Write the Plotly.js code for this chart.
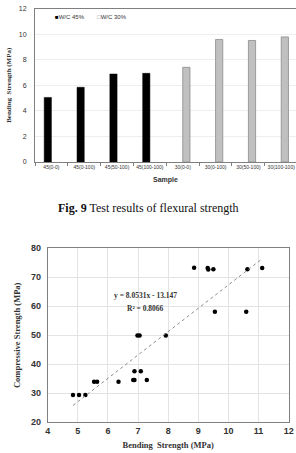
<!DOCTYPE html>
<html>
<head>
<meta charset="utf-8">
<script src="https://cdn.plot.ly/plotly-3.0.1.min.js"></script>
<style>html,body{margin:0;padding:0;background:#fff;}#chart{width:296px;height:453px;}</style>
</head>
<body>
<div id="chart"></div>
<script>
// ---- Fig. 9 bar chart data ----
const sampleLabels = ['45(0-0)','45(0-100)','45(50-100)','45(100-100)','30(0-0)','30(0-100)','30(50-100)','30(100-100)'];
const seriesNames = ['W/C 45%', 'W/C 30%'];
const wc45Values = [5.05, 5.84, 6.88, 6.93, null, null, null, null];
const wc30Values = [null, null, null, null, 7.4, 9.58, 9.5, 9.78];
const barYTicks = [0, 2, 4, 6, 8, 10, 12];

// ---- scatter data ----
const bendingStrength = [8.86, 9.31, 9.33, 9.5, 10.63, 11.12, 9.55, 10.59, 6.98, 7.05, 7.92, 6.88, 7.09, 6.84, 6.88, 7.29, 6.35, 5.54, 5.64, 4.84, 5.04, 5.25];
const compressiveStrength = [73.3, 73.2, 72.7, 72.8, 72.8, 73.2, 58.1, 58.1, 49.9, 49.9, 49.9, 37.6, 37.6, 34.6, 34.6, 34.6, 34.0, 34.0, 34.0, 29.4, 29.4, 29.4];
const trendSlope = 8.0531;
const trendIntercept = -13.147;
const trendR2 = 0.8066;

const xMin = Math.min(...bendingStrength), xMax = Math.max(...bendingStrength);
const trendX = [xMin, xMax];
const trendY = trendX.map(x => trendSlope * x + trendIntercept);

const W = 296, H = 453;
const px = v => v / W;
const py = v => 1 - v / H;

const sans = 'Liberation Sans, Arial, sans-serif';
const serif = 'Liberation Serif, Times New Roman, serif';

const colBlack = '#000000', colGray = '#c0c0c0', colGrayEdge = '#8a8a8a';

const traces = [
  {type:'bar', name:seriesNames[0], x: sampleLabels, y: wc45Values, xaxis:'x', yaxis:'y', showlegend:false,
   marker:{color:colBlack, line:{color:colBlack, width:0.5}}},
  {type:'bar', name:seriesNames[1], x: sampleLabels, y: wc30Values, xaxis:'x', yaxis:'y', showlegend:false,
   marker:{color:colGray, line:{color:colGrayEdge, width:0.8}}},
  // legend entries: swatch drawn right against the label, like the reference
  {type:'scatter', mode:'markers', x:[null], y:[null], xaxis:'x', yaxis:'y', legend:'legend',
   name:'<span style="color:' + colBlack + '">■</span>' + seriesNames[0],
   marker:{color:'rgba(0,0,0,0)', size:1}},
  {type:'scatter', mode:'markers', x:[null], y:[null], xaxis:'x', yaxis:'y', legend:'legend2',
   name:'<span style="color:' + colGrayEdge + '">□</span>' + seriesNames[1],
   marker:{color:'rgba(0,0,0,0)', size:1}},
  {type:'scatter', mode:'markers', x: bendingStrength, y: compressiveStrength, xaxis:'x2', yaxis:'y2',
   marker:{color:'#000000', size:4.5}, showlegend:false},
  {type:'scatter', mode:'lines', x: trendX, y: trendY, xaxis:'x2', yaxis:'y2',
   line:{color:'#8c8c8c', width:1, dash:'dot'}, showlegend:false}
];

const legendBase = {orientation:'h', xanchor:'left', yanchor:'middle',
                    font:{family:sans, size:6, color:'#333'}, bgcolor:'rgba(0,0,0,0)'};

const layout = {
  width: W, height: H,
  margin:{l:0, r:0, t:0, b:0},
  paper_bgcolor:'#ffffff', plot_bgcolor:'#ffffff',
  showlegend:true,
  barmode:'group', bargap:0.56, bargroupgap:0,
  legend:Object.assign({}, legendBase, {x:px(15), y:py(17)}),
  legend2:Object.assign({}, legendBase, {x:px(57), y:py(17)}),
  xaxis:{domain:[px(35), 1], anchor:'y', range:[-0.5, 7.45],
         showline:true, linecolor:'#7f7f7f', linewidth:1, mirror:true,
         ticks:'outside', tickson:'boundaries', ticklen:3, tickcolor:'#7f7f7f',
         tickangle:0,
         tickfont:{family:sans, size:5, color:'#333'},
         title:{text:'<b>Sample</b>', font:{family:sans, size:7, color:'#333'}, standoff:8},
         showgrid:false, fixedrange:true},
  yaxis:{domain:[py(162), py(8.5)], anchor:'x', range:[0, 12], tickvals:barYTicks,
         showline:true, linecolor:'#7f7f7f', linewidth:1, mirror:true,
         showgrid:true, gridcolor:'#eeeeee', gridwidth:1, zeroline:false,
         ticks:'', ticklabelstandoff:6,
         tickfont:{family:sans, size:7, color:'#333'},
         title:{text:'<b>Bending  Strength (MPa)</b>', font:{family:serif, size:7, color:'#333'}, standoff:6}},
  xaxis2:{domain:[px(47.7), px(288.7)], anchor:'y2', range:[4, 12], dtick:1,
          showline:true, linecolor:'#808080', linewidth:1, mirror:true,
          showgrid:true, gridcolor:'#e3e3e3', zeroline:false, ticks:'',
          tickfont:{family:sans, size:9, color:'#333', weight:'bold'},
          title:{text:'<b>Bending&nbsp;&nbsp;Strength (MPa)</b>', font:{family:serif, size:8.5, color:'#333'}, standoff:6}},
  yaxis2:{domain:[py(422.3), py(248.3)], anchor:'x2', range:[20, 80], dtick:10,
          showline:true, linecolor:'#808080', linewidth:1, mirror:true,
          showgrid:true, gridcolor:'#e3e3e3', zeroline:false, ticks:'', ticklabelstandoff:4,
          tickfont:{family:sans, size:9, color:'#333', weight:'bold'},
          title:{text:'<b>Compressive Strength (MPa)</b>', font:{family:serif, size:8.5, color:'#333'}, standoff:8}},
  annotations:[
    {xref:'paper', yref:'paper', x:0.5, y:py(208), xanchor:'center', yanchor:'middle', showarrow:false,
     text:'<b>Fig. 9</b> Test results of flexural strength', font:{family:serif, size:12, color:'#111'}},
    {xref:'x2', yref:'y2', x:7.23, y:61.5, xanchor:'center', yanchor:'bottom', showarrow:false,
     text:'<b>y = ' + trendSlope + 'x - ' + Math.abs(trendIntercept) + '</b>', font:{family:serif, size:7.5, color:'#333'}},
    {xref:'x2', yref:'y2', x:7.23, y:61.5, xanchor:'center', yanchor:'top', showarrow:false,
     text:'<b>R² = ' + trendR2 + '</b>', font:{family:serif, size:7.5, color:'#333'}}
  ]
};

Plotly.newPlot('chart', traces, layout, {displayModeBar:false, staticPlot:true});
</script>
</body>
</html>
